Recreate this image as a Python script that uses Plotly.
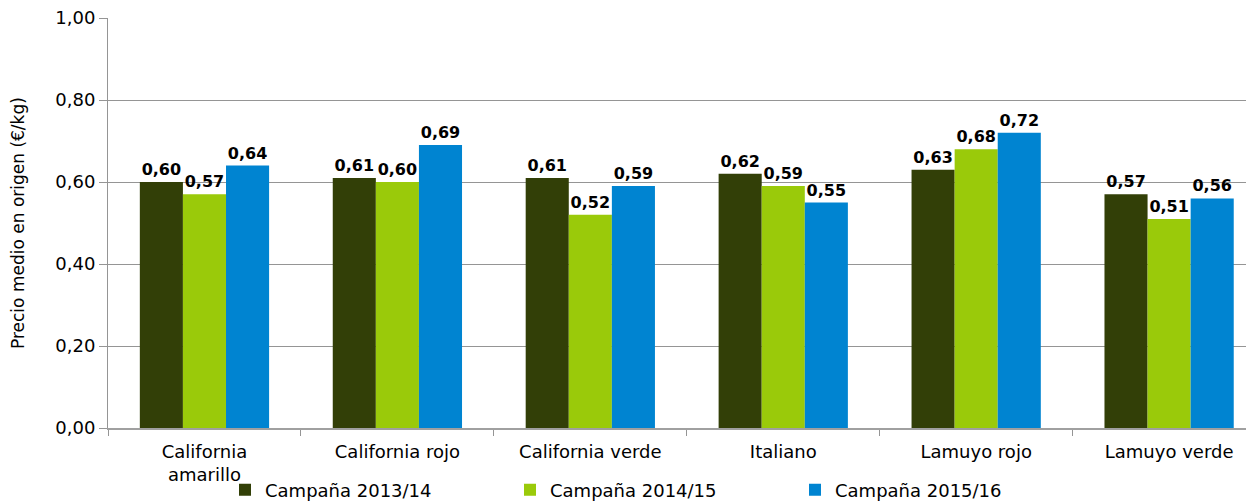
import plotly.graph_objects as go

categories = ["California<br>amarillo", "California rojo", "California verde",
              "Italiano", "Lamuyo rojo", "Lamuyo verde"]
series_names = ["Campaña 2013/14", "Campaña 2014/15", "Campaña 2015/16"]
v2013 = [0.60, 0.61, 0.61, 0.62, 0.63, 0.57]
v2014 = [0.57, 0.60, 0.52, 0.59, 0.68, 0.51]
v2015 = [0.64, 0.69, 0.59, 0.55, 0.72, 0.56]
colors = ["#323F07", "#9ACA0A", "#0084D1"]
y_title = "Precio medio en origen (€/kg)"

FONT = "DejaVu Sans"
# page body has an 8px margin; figure is sized to fill the rest of the window
W, H = 1246, 494
L, R, T, B = 100, 0, 10, 74

fig = go.Figure()
for name, vals, col in zip(series_names, [v2013, v2014, v2015], colors):
    fig.add_trace(go.Bar(
        x=categories, y=vals, name=name, marker_color=col,
        marker_line_width=0,
        texttemplate="<b>%{y:.2f}</b>", textposition="outside",
        textfont=dict(family=FONT, size=16, color="#000000"),
        cliponaxis=False,
    ))

fig.update_layout(
    width=W, height=H,
    margin=dict(l=L, r=R, t=T, b=B, autoexpand=False),
    paper_bgcolor="white", plot_bgcolor="white",
    separators=",.",
    barmode="group", bargap=0.33, bargroupgap=0,
    font=dict(family=FONT, size=18, color="#000000"),
    showlegend=True,
    legend=dict(orientation="h", x=217 / W, xanchor="left",
                xref="container", yref="container",
                y=(H - 482) / H, yanchor="middle",
                bgcolor="rgba(0,0,0,0)",
                font=dict(family=FONT, size=18), itemwidth=30,
                traceorder="normal", entrywidth=240, tracegroupgap=0),
    uniformtext=dict(minsize=8, mode="show"),
    annotations=[dict(
        text=y_title, textangle=-90, xref="paper", yref="paper",
        x=(10 - L) / (W - L - R), y=0.5, xanchor="center", yanchor="middle",
        showarrow=False, font=dict(family=FONT, size=17, color="#000000"),
    )],
)
fig.update_yaxes(
    range=[0, 1.0], dtick=0.2, tickformat=".2f",
    showgrid=True, gridcolor="#959595", gridwidth=1,
    showline=True, linecolor="#959595", linewidth=1,
    ticks="outside", ticklen=8, tickcolor="#959595",
    tickfont=dict(family=FONT, size=18), ticklabeloverflow="allow",
    automargin=False, zeroline=False,
)
fig.update_xaxes(
    range=[-0.5, 5.44],
    showline=True, linecolor="#A0A0A0", linewidth=2,
    ticks="outside", tickson="boundaries", ticklen=6, tickcolor="#959595",
    tickfont=dict(family=FONT, size=18), ticklabelstandoff=6,
    ticklabeloverflow="allow",
    automargin=False,
)

fig.write_html("out.html")
